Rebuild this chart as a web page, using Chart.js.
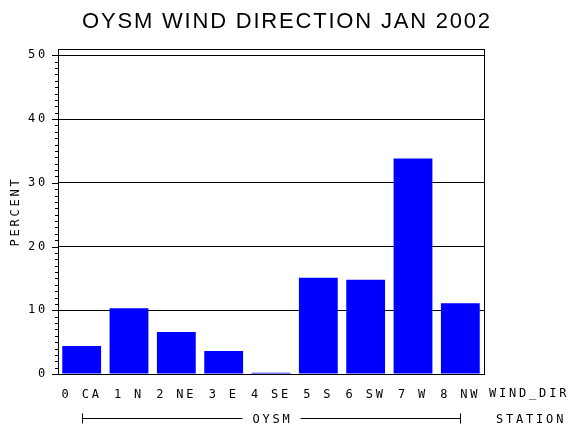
<!DOCTYPE html>
<html>
<head>
<meta charset="utf-8">
<title>OYSM Wind Direction Jan 2002</title>
<script src="https://cdn.jsdelivr.net/npm/chart.js@4/dist/chart.umd.min.js"></script>
<style>
  html, body { margin: 0; padding: 0; background: #fff; }
  #chart { display: block; }
</style>
</head>
<body>
<canvas id="chart" width="570" height="430"></canvas>
<script>
// Wind direction categories and their share of observations (percent)
const directions  = ["0 CA", "1 N", "2 NE", "3 E", "4 SE", "5 S", "6 SW", "7 W", "8 NW"];
const percents    = [4.4, 10.3, 6.6, 3.6, 0.2, 15.1, 14.8, 33.8, 11.1];
const yTicks      = [0, 10, 20, 30, 40, 50];
const titleText   = "OYSM WIND DIRECTION JAN 2002";
const stationName = "OYSM";
const axisNames   = { category: "WIND_DIR", group: "STATION" };

const MONO   = "'DejaVu Sans Mono', monospace";
const SANS   = "'Liberation Sans', Arial, sans-serif";
const SPACED = "2.8px";

/**
 * Canvas letter spacing gets reset whenever the canvas is sized,
 * so set it again before every layout and draw pass.
 */
const spacing = {
  id: "spacing",
  beforeUpdate(chart) { chart.ctx.letterSpacing = SPACED; },
  beforeDraw(chart)   { chart.ctx.letterSpacing = SPACED; },
};

/**
 * Title, frame, minor ticks on the value axis, and the station bracket row.
 */
const extras = {
  id: "extras",
  afterDraw(chart) {
    const { ctx, chartArea: a, scales, width } = chart;
    const y = scales.y;
    const x = scales.x;

    ctx.save();
    ctx.fillStyle = "#000";
    ctx.strokeStyle = "#000";
    ctx.lineWidth = 1;

    // title
    ctx.font = "22px " + SANS;
    ctx.letterSpacing = "1.8px";
    ctx.textAlign = "center";
    ctx.textBaseline = "alphabetic";
    ctx.fillText(titleText, width / 2 + 2, 28);

    // plot frame
    ctx.strokeRect(Math.round(a.left) + 0.5, Math.round(a.top) + 0.5,
                   Math.round(a.right - a.left), Math.round(a.bottom - a.top));

    // ticks: long on the tens, short in between
    ctx.beginPath();
    for (let v = 0; v <= 50; v++) {
      const py  = Math.round(y.getPixelForValue(v)) + 0.5;
      const len = v % 10 === 0 ? 6 : 3;
      ctx.moveTo(a.left - len, py);
      ctx.lineTo(a.left, py);
    }
    ctx.stroke();

    ctx.font = "12px " + MONO;
    ctx.letterSpacing = SPACED;
    ctx.textBaseline = "middle";
    ctx.textAlign = "left";

    const tickY = a.bottom + 20;
    const rowY  = a.bottom + 46;
    ctx.fillText(axisNames.category, a.right + 5, tickY);
    ctx.fillText(axisNames.group, a.right + 12, rowY);

    // bracket spanning the station's categories
    const x0  = Math.round(x.getPixelForValue(0)) + 0.5;
    const x1  = Math.round(x.getPixelForValue(directions.length - 1)) + 0.5;
    const mid = (x0 + x1) / 2;
    const tw  = ctx.measureText(stationName).width;
    const ly  = Math.round(rowY) - 1.5;
    ctx.textAlign = "center";
    ctx.fillText(stationName, mid + 1, rowY);
    ctx.beginPath();
    ctx.moveTo(x0, ly - 5); ctx.lineTo(x0, ly + 5);
    ctx.moveTo(x0, ly);     ctx.lineTo(mid - tw / 2 - 9, ly);
    ctx.moveTo(mid + tw / 2 + 9, ly); ctx.lineTo(x1, ly);
    ctx.moveTo(x1, ly - 5); ctx.lineTo(x1, ly + 5);
    ctx.stroke();
    ctx.restore();
  },
};

new Chart(document.getElementById("chart"), {
  type: "bar",
  data: {
    labels: directions,
    datasets: [{
      data: percents,
      backgroundColor: "#0000ff",
      borderWidth: 0,
      categoryPercentage: 1,
      barPercentage: 0.82,
    }],
  },
  options: {
    responsive: false,
    animation: false,
    devicePixelRatio: 1,
    layout: { padding: { left: 3, right: 86, top: 49, bottom: 0 } },
    plugins: {
      legend: { display: false },
      tooltip: { enabled: false },
      title: { display: false },
    },
    scales: {
      x: {
        afterFit(scale) { scale.height = 56; },
        grid: { display: false, drawTicks: false },
        border: { display: true, color: "#000" },
        ticks: { color: "#000", font: { family: MONO, size: 12 }, padding: 14, maxRotation: 0, autoSkip: false },
      },
      y: {
        z: 1,
        min: 0,
        max: 51,
        afterFit(scale) { scale.width = 55; },
        afterBuildTicks(scale) { scale.ticks = yTicks.map((v) => ({ value: v })); },
        grid: { color: "#000", lineWidth: 1, drawTicks: false },
        border: { display: true, color: "#000" },
        ticks: { color: "#000", font: { family: MONO, size: 12 }, padding: 10 },
        title: {
          display: true,
          text: "PERCENT",
          color: "#000",
          font: { family: MONO, size: 12 },
          padding: { top: 6, bottom: 0 },
        },
      },
    },
  },
  plugins: [spacing, extras],
});
</script>
</body>
</html>
